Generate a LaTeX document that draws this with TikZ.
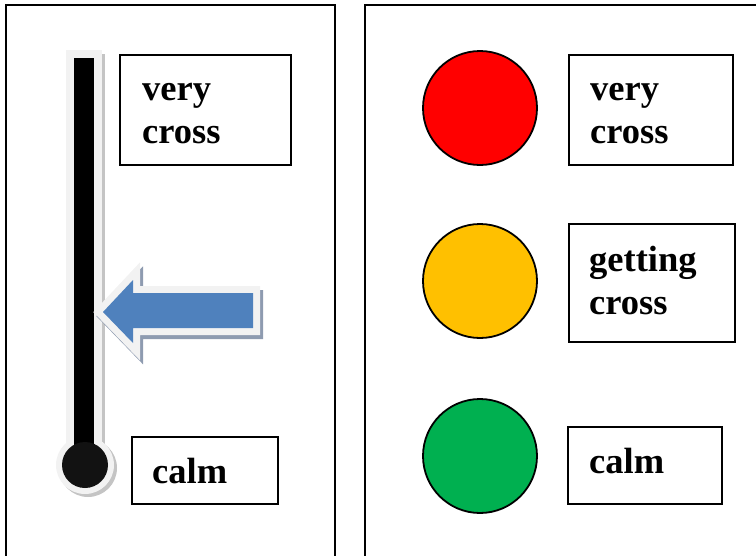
\documentclass[tikz,border=0pt]{standalone}
\usepackage{fontspec}
\setmainfont{Liberation Serif}
\definecolor{tubegray}{HTML}{F2F2F2}
\definecolor{tubeshade}{HTML}{C4C4C4}
\definecolor{arrowblue}{HTML}{4F81BD}
\definecolor{arrowshade}{HTML}{8E9BB0}
\definecolor{stopred}{HTML}{FF0000}
\definecolor{waitamber}{HTML}{FFC000}
\definecolor{gogreen}{HTML}{00B050}
\begin{document}
\begin{tikzpicture}[x=1pt,y=-1pt,
  panel/.style={line width=2.2pt, draw=black},
  box/.style={draw=black, line width=2.2pt, anchor=north west, inner sep=0pt},
  word/.style={font=\bfseries\fontsize{36.5}{42.5}\selectfont, align=left,
               inner sep=0pt, anchor=base west},
  lamp/.style={circle, draw=black, line width=1.8pt, minimum size=114pt, inner sep=0pt}]
\useasboundingbox (0,0) rectangle (756,555);

% two framed panels, open at the bottom
\draw[panel] (6,560) -- (6,5) -- (335,5) -- (335,560);
\draw[panel] (365,560) -- (365,5) -- (760,5);

% thermometer: shadow, light glass, black column and bulb
\fill[tubeshade] (69,54) rectangle (105,445);
\fill[tubeshade] (88,468) circle (29pt);
\fill[tubegray] (66,50) rectangle (102,445);
\fill[tubegray] (85,465) circle (29pt);
\fill[black] (74,58) rectangle (94,450);
\fill[black!93] (85,465) circle (23pt);

% pointer arrow with pale rim and drop shadow
\def\pointer{(103,312) -- (133,280) -- (133,293) -- (253,293) -- (253,328)
  -- (133,328) -- (133,343) -- cycle}
\path[fill=arrowshade, draw=arrowshade, line width=14pt, line join=miter,
      shift={(3,4)}] \pointer;
\path[fill=tubegray, draw=tubegray, line width=14pt, line join=miter] \pointer;
\path[fill=arrowblue] \pointer;

% left-hand labels (base anchor sits on the last line)
\node[box, minimum width=171pt, minimum height=110pt] (lvery) at (119,54) {};
\node[word] (lverytxt) at (142,143) {very\\cross};
\node[box, minimum width=146pt, minimum height=67pt] (lcalm) at (131,436) {};
\node[word] (lcalmtxt) at (152,483) {calm};

% traffic lights
\node[lamp, fill=stopred] (red) at (480,108) {};
\node[lamp, fill=waitamber] (amber) at (480,281) {};
\node[lamp, fill=gogreen] (green) at (480,456) {};

% right-hand labels
\node[box, minimum width=164pt, minimum height=110pt] (rvery) at (568,54) {};
\node[word] (rverytxt) at (590,143) {very\\cross};
\node[box, minimum width=166pt, minimum height=118pt] (rgetting) at (568,223) {};
\node[word] (rgettingtxt) at (589,314) {getting\\cross};
\node[box, minimum width=154pt, minimum height=77pt] (rcalm) at (567,426) {};
\node[word] (rcalmtxt) at (589,473) {calm};
\end{tikzpicture}
\end{document}
